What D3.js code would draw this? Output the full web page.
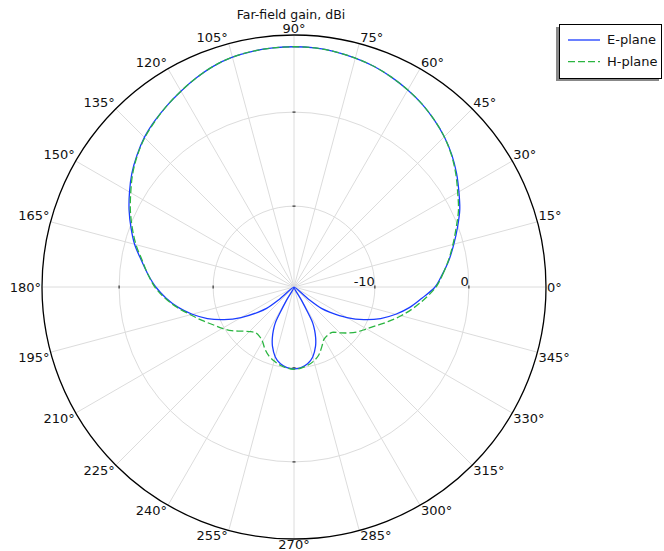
<!DOCTYPE html>
<html><head><meta charset="utf-8">
<script src="https://cdn.jsdelivr.net/npm/d3@7"></script>
<style>body{margin:0;background:#fff} svg{display:block} text{font-family:"DejaVu Sans",sans-serif;font-size:13px;fill:#111}</style>
</head><body><svg id="c" width="664" height="551"></svg>
<script>
// ---- data ----
const chartTitle = "Far-field gain, dBi";
const thetaTicks = d3.range(0, 360, 15);
const radialTicks = [-10, 0];
const radialDomain = [-18.6, 8.2];
const seriesNames = ["E-plane", "H-plane"];

const eAngles = [0,5,10,15,20,25,30,35,40,45,50,55,60,65,70,75,80,85,90,95,100,105,110,115,120,125,130,135,140,145,150,155,160,165,170,175,180,185,190,195,200,205,210,215,218,220,230,240.5,241.5,242.5,244.5,247,250,255,260,265,270,275,280,285,290,293,295.5,297.5,298.5,299.5,310,320,322,325,330,335,340,345,350,355];
const eGain = [-3.6,-2.75,-1.85,-1.0,-0.1,0.85,1.65,2.5,3.3,4.0,4.6,5.15,5.6,6.0,6.35,6.6,6.8,6.92,6.95,6.92,6.85,6.7,6.4,5.95,5.45,4.95,4.45,3.9,3.2,2.45,1.6,0.75,-0.15,-1.05,-2.1,-3.0,-3.9,-4.95,-6.1,-7.4,-8.8,-10.4,-12.1,-13.9,-14.9,-16.5,-40,-17.0,-15.6,-14.3,-13.5,-12.7,-11.9,-10.9,-10.3,-10.0,-9.9,-10.0,-10.3,-10.9,-11.9,-12.7,-13.5,-14.3,-15.6,-17.0,-40,-16.5,-14.9,-13.9,-12.1,-10.4,-8.8,-7.4,-6.1,-4.95];

const hAngles = [0,5,10,15,20,25,30,35,40,45,50,55,60,65,70,75,80,85,90,95,100,105,110,115,120,125,130,135,140,145,150,155,160,165,170,175,180,185,190,195,200,205,210,215,220,225,230,235,240,245,250,255,260,265,270,275,280,285,290,295,300,305,310,315,320,325,330,335,340,345,350,355];
const hGain = [-3.5,-2.7,-1.9,-1.1,-0.25,0.7,1.5,2.4,3.25,4.0,4.6,5.15,5.6,6.0,6.35,6.6,6.8,6.92,6.95,6.92,6.85,6.7,6.4,5.95,5.45,4.95,4.4,3.85,3.15,2.35,1.45,0.6,-0.3,-1.2,-2.2,-3.0,-3.8,-4.85,-6.0,-7.2,-8.2,-9.1,-9.8,-10.5,-11.3,-11.9,-12.25,-12.2,-11.9,-11.3,-10.8,-10.45,-10.15,-9.95,-9.85,-9.95,-10.15,-10.45,-10.9,-11.6,-12.2,-12.35,-12.3,-11.7,-11.0,-10.3,-9.7,-8.9,-7.9,-6.8,-5.7,-4.6];

const seriesColors = ["#1a3cff", "#2ab540"];

// ---- drawing ----
const svg = d3.select("#c");
const cx = 294, cy = 287, R = 252;
const r = d3.scaleLinear().domain(radialDomain).range([0, R]).clamp(true);
const rad = d => d * Math.PI / 180;
const g = svg.append("g").attr("transform", `translate(${cx},${cy})`);

// spokes
g.selectAll("line.spoke").data(thetaTicks).join("line").attr("class","spoke")
  .attr("x1", 0).attr("y1", 0)
  .attr("x2", d => R * Math.cos(rad(d))).attr("y2", d => -R * Math.sin(rad(d)))
  .attr("stroke", "#dcdcdc").attr("stroke-width", 1);

// rings
g.selectAll("circle.ring").data(radialTicks).join("circle").attr("class","ring")
  .attr("r", d => r(d)).attr("fill", "none").attr("stroke", "#dcdcdc").attr("stroke-width", 1);

// small tick marks on rings at 0/90/180/270
const tickPts = [];
radialTicks.forEach(v => [0, 90, 180, 270].forEach(a => tickPts.push({v, a})));
g.selectAll("line.tk").data(tickPts).join("line").attr("class","tk")
  .attr("x1", d => r(d.v) * Math.cos(rad(d.a)) - 1.5 * Math.sin(rad(d.a)))
  .attr("y1", d => -r(d.v) * Math.sin(rad(d.a)) - 1.5 * Math.cos(rad(d.a)))
  .attr("x2", d => r(d.v) * Math.cos(rad(d.a)) + 1.5 * Math.sin(rad(d.a)))
  .attr("y2", d => -r(d.v) * Math.sin(rad(d.a)) + 1.5 * Math.cos(rad(d.a)))
  .attr("stroke", "#333").attr("stroke-width", 1.2);

// series
const lineGen = d3.lineRadial()
  .angle(d => rad(90 - d[0]))
  .radius(d => r(d[1]))
  .curve(d3.curveCatmullRomClosed.alpha(0.5));
const eData = eAngles.map((a, i) => [a, eGain[i]]);
const hData = hAngles.map((a, i) => [a, hGain[i]]);
g.append("path").attr("d", lineGen(eData)).attr("fill", "none")
  .attr("stroke", seriesColors[0]).attr("stroke-width", 1.3);
g.append("path").attr("d", lineGen(hData)).attr("fill", "none")
  .attr("stroke", seriesColors[1]).attr("stroke-width", 1.3).attr("stroke-dasharray", "7,3");

// outer circle
g.append("circle").attr("r", R).attr("fill", "none").attr("stroke", "#000").attr("stroke-width", 1.3);

// radial labels
g.selectAll("text.rl").data(radialTicks).join("text").attr("class","rl")
  .attr("x", d => r(d)).attr("y", -1.5).attr("text-anchor", "end").text(d => d);

// theta labels
const eps = 0.01;
g.selectAll("text.tl").data(thetaTicks).join("text").attr("class","tl")
  .each(function(d) {
    const c = Math.cos(rad(d)), s = Math.sin(rad(d));
    const px = R * c, py = -R * s;
    const anchor = c > eps ? "start" : (c < -eps ? "end" : "middle");
    let y;
    if (s > eps) y = py - 2; else if (s < -eps) y = py + 10; else y = py + 4.7;
    d3.select(this).attr("x", px + (c > eps ? 1 : (c < -eps ? -1 : 0))).attr("y", y)
      .attr("text-anchor", anchor).text(d + "°");
  });

// title
svg.append("text").attr("x", 291).attr("y", 18.5).attr("text-anchor", "middle")
  .style("font-size", "12.5px").text(chartTitle);

// legend
const lg = svg.append("g");
lg.append("rect").attr("x", 556).attr("y", 27).attr("width", 103).attr("height", 54).attr("fill", "#888");
lg.append("rect").attr("x", 559.5).attr("y", 24.5).attr("width", 102).attr("height", 54)
  .attr("fill", "#fff").attr("stroke", "#000").attr("stroke-width", 1);
seriesNames.forEach((name, i) => {
  const y = 40 + i * 21.7;
  lg.append("line").attr("x1", 568).attr("x2", 600).attr("y1", y).attr("y2", y)
    .attr("stroke", seriesColors[i]).attr("stroke-width", 1.3)
    .attr("stroke-dasharray", i === 1 ? "7,3" : null);
  lg.append("text").attr("x", 607).attr("y", y + 4.3).text(name);
});
</script></body></html>
